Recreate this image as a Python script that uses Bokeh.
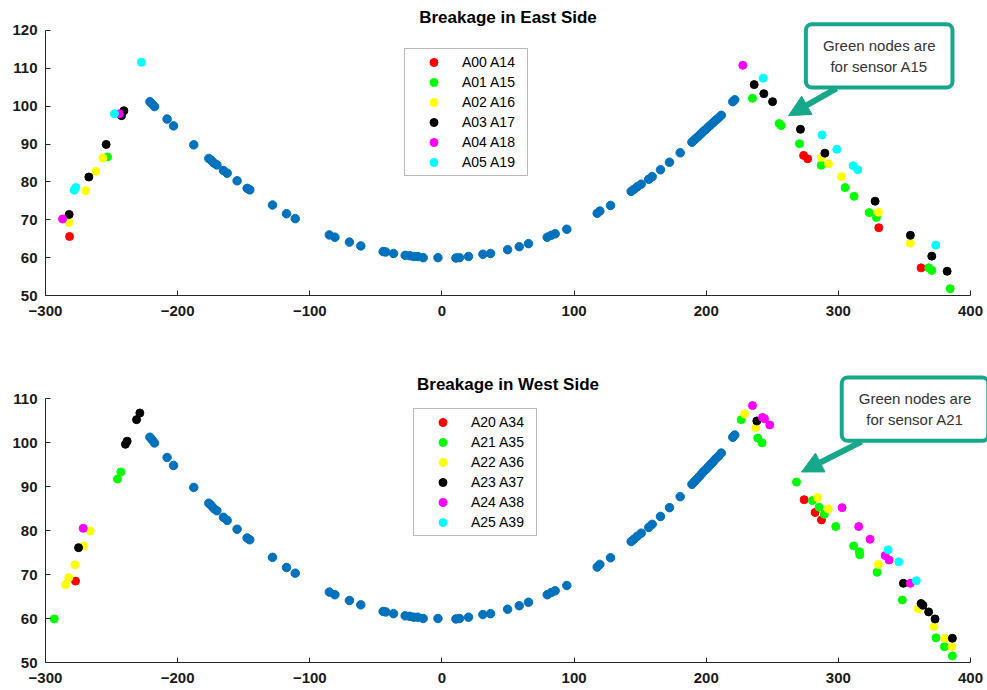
from bokeh.plotting import figure
from bokeh.layouts import column
from bokeh.models import Legend, LegendItem, Label, Arrow, NormalHead, FixedTicker
from bokeh.embed import file_html
from bokeh.resources import INLINE

# ---------------- data ----------------
curve_x = [-221.0, -219.3, -217.5, -208.0, -203.1, -187.8, -176.4, -174.6, -172.6, -170.3,
           -165.3, -162.5, -155.0, -147.4, -145.4, -128.2, -117.6, -111.0, -85.2, -81.0,
           -70.0, -61.4, -44.5, -42.5, -36.6, -27.8, -24.3, -21.3, -18.3, -14.2,
           -3.0, 10.6, 13.3, 20.1, 31.0, 36.8, 49.7, 58.5, 65.5, 79.7,
           82.7, 85.7, 94.5, 117.5, 119.5, 127.6, 143.2, 145.2, 147.8, 150.8,
           156.5, 159.1, 165.4, 172.2, 180.3, 189.2, 191.0, 192.6, 194.5, 196.3,
           198.0, 199.9, 201.6, 203.5, 205.4, 207.2, 209.3, 211.4, 220.1, 221.6]
curve_y = [101.2, 100.6, 99.9, 96.6, 94.8, 89.8, 86.2, 85.7, 85.0, 84.5,
           83.0, 82.3, 80.3, 78.3, 77.9, 73.9, 71.6, 70.3, 66.0, 65.4,
           64.1, 63.1, 61.6, 61.5, 61.1, 60.6, 60.5, 60.3, 60.3, 60.0,
           60.0, 59.9, 60.0, 60.3, 60.9, 61.1, 62.1, 62.9, 63.7, 65.4,
           65.9, 66.3, 67.5, 71.7, 72.3, 73.8, 77.5, 78.0, 78.7, 79.4,
           80.7, 81.4, 83.2, 85.2, 87.7, 90.5, 91.1, 91.6, 92.2, 92.8,
           93.4, 93.9, 94.5, 95.1, 95.7, 96.3, 96.9, 97.6, 101.2, 101.7]

sensor_colors = ["#FF0000", "#00FF00", "#FFFF00", "#000000", "#FF00FF", "#00FFFF"]

east_labels = ["A00 A14", "A01 A15", "A02 A16", "A03 A17", "A04 A18", "A05 A19"]
east_x = [
    [-281.8, 273.7, 276.8, 330.6, 362.6],
    [-253.1, 235.0, 255.2, 256.7, 270.6, 287.0, 305.1, 311.9, 323.3, 328.8, 368.4, 370.7, 384.6],
    [-256.6, -261.9, -269.5, -282.4, 287.2, 292.5, 302.3, 330.3, 354.5],
    [-240.7, -242.5, -254.1, -267.2, -282.1, 236.3, 243.6, 250.2, 271.3, 289.8, 327.8, 354.5, 370.7, 382.3],
    [-244.2, -287.1, 227.7],
    [-227.4, -247.8, -277.1, -278.3, 243.1, 287.7, 298.8, 311.2, 314.7, 373.7],
]
east_y = [
    [65.6, 87.0, 86.1, 67.9, 57.3],
    [86.6, 102.1, 95.4, 94.9, 90.1, 84.4, 78.5, 76.2, 71.9, 70.6, 57.3, 56.6, 51.8],
    [86.3, 82.8, 77.7, 69.3, 86.5, 84.8, 81.4, 72.0, 63.8],
    [98.8, 97.5, 89.9, 81.3, 71.4, 105.7, 103.3, 101.2, 93.9, 87.6, 74.9, 65.9, 60.4, 56.4],
    [98.0, 70.2, 110.8],
    [111.6, 98.0, 78.5, 77.8, 107.4, 92.4, 88.6, 84.3, 83.2, 63.3],
]

west_labels = ["A20 A34", "A21 A35", "A22 A36", "A23 A37", "A24 A38", "A25 A39"]
west_x = [
    [-277.3, 274.1, 282.4, 287.2],
    [-293.4, -243.0, -245.5, 226.5, 239.0, 242.3, 268.3, 280.4, 285.4, 289.4, 298.0, 311.6, 315.9,
     316.2, 329.3, 348.4, 373.9, 380.2, 386.3],
    [-266.2, -271.2, -277.8, -282.4, -284.9, 229.0, 237.5, 284.2, 292.3, 330.3, 360.5, 372.4, 380.5, 385.9],
    [-228.6, -231.1, -238.2, -239.5, -275.0, 238.3, 349.2, 362.6, 364.0, 368.3, 373.2, 386.3],
    [-271.5, 235.0, 242.6, 244.1, 248.1, 302.8, 315.4, 324.0, 335.4, 338.4, 354.5],
    [337.7, 345.7, 359.0],
]
west_y = [
    [68.5, 87.0, 84.1, 82.4],
    [59.9, 93.3, 91.7, 105.2, 101.0, 99.9, 91.0, 86.8, 85.3, 83.7, 80.9, 76.5, 75.2,
     74.5, 70.5, 64.2, 55.6, 53.6, 51.5],
    [79.9, 76.5, 72.2, 69.3, 67.7, 106.5, 103.4, 87.5, 84.9, 72.3, 62.2, 58.2, 55.5, 53.6],
    [106.7, 105.2, 100.3, 99.6, 76.1, 104.9, 68.0, 63.4, 63.0, 61.5, 59.9, 55.5],
    [80.5, 108.4, 105.7, 105.4, 104.0, 85.2, 80.9, 78.0, 74.3, 73.3, 68.0],
    [75.6, 72.9, 68.6],
]

x_ticks = [-300, -200, -100, 0, 100, 200, 300, 400]
east_y_ticks = [50, 60, 70, 80, 90, 100, 110, 120]
west_y_ticks = [50, 60, 70, 80, 90, 100, 110]

TEAL = "#17a88b"
AXIS_COLOR = "#262626"


def make_panel(title, title_y, yr, ybounds, yticks, gx, gy, labels, leg_loc, border_bottom, height,
               note, note_xy, arrow_xy):
    p = figure(width=987, height=height, x_range=(-300, 412.86), y_range=yr,
               output_backend="svg", toolbar_location=None,
               min_border_left=45, min_border_right=0,
               min_border_top=0, min_border_bottom=border_bottom)
    p.outline_line_color = None
    p.grid.visible = False
    for ax in (p.xaxis[0], p.yaxis[0]):
        ax.axis_line_color = AXIS_COLOR
        ax.major_tick_line_color = AXIS_COLOR
        ax.major_tick_in = 5
        ax.major_tick_out = 0
        ax.minor_tick_line_color = None
        ax.major_label_text_font = "Liberation Sans"
        ax.major_label_text_font_size = "15px"
        ax.major_label_text_font_style = "bold"
        ax.major_label_text_color = "#1a1a1a"
    p.xaxis.ticker = FixedTicker(ticks=x_ticks)
    p.yaxis.ticker = FixedTicker(ticks=yticks)
    p.xaxis.bounds = (x_ticks[0], x_ticks[-1])
    p.yaxis.bounds = ybounds
    p.xaxis.major_label_standoff = 10
    p.yaxis.major_label_standoff = 8

    p.add_layout(Label(x=50, y=title_y, text=title, text_align="center", text_baseline="middle",
                       text_font="Liberation Sans", text_font_size="17px",
                       text_font_style="bold", text_color="#000000"))

    p.scatter(curve_x, curve_y, size=8.5, color="#0072BD")
    items = []
    for xs, ys, c, lab in zip(gx, gy, sensor_colors, labels):
        r = p.scatter(xs, ys, size=8, color=c)
        items.append(LegendItem(label=lab, renderers=[r]))
    leg = Legend(items=items, location=leg_loc, orientation="vertical",
                 padding=3, spacing=0, margin=0, glyph_width=51, glyph_height=20,
                 label_height=20, label_width=62, label_standoff=3,
                 label_text_font="Liberation Sans", label_text_font_size="14px",
                 label_text_color="#000000",
                 border_line_color="#777777", border_line_width=1,
                 background_fill_color="#ffffff", background_fill_alpha=1.0)
    p.add_layout(leg, "center")

    arrow = Arrow(end=NormalHead(size=21, fill_color=TEAL, line_color=TEAL),
                  x_start=arrow_xy[0], y_start=arrow_xy[1],
                  x_end=arrow_xy[2], y_end=arrow_xy[3],
                  line_color=TEAL, line_width=6)
    p.add_layout(arrow)
    lbl = Label(x=note_xy[0], y=note_xy[1], text=note, text_align="center",
                text_baseline="middle", text_font="Liberation Sans", text_font_size="15px",
                text_color="#333333", text_line_height=1.2,
                background_fill_color="#ffffff", border_line_color=TEAL,
                border_line_width=4, padding=(17, 13), border_radius=6)
    p.add_layout(lbl)
    return p


p1 = make_panel("Breakage in East Side", 123.43, (50, 127.92), (50, 120), east_y_ticks,
                east_x, east_y, east_labels, (359, 119), 50, 345,
                "Green nodes are\nfor sensor A15", (330.9, 113.3), (298.6, 104.7, 262.3, 97.5))
p2 = make_panel("Breakage in West Side", 113.1, (50, 122.05), (50, 110), west_y_ticks,
                west_x, west_y, west_labels, (368, 126), 28, 345,
                "Green nodes are\nfor sensor A21", (358.0, 107.6), (317.5, 100.2, 272.1, 93.3))

layout = column(p1, p2, spacing=0)
open("out.html", "w").write(file_html(layout, INLINE))
